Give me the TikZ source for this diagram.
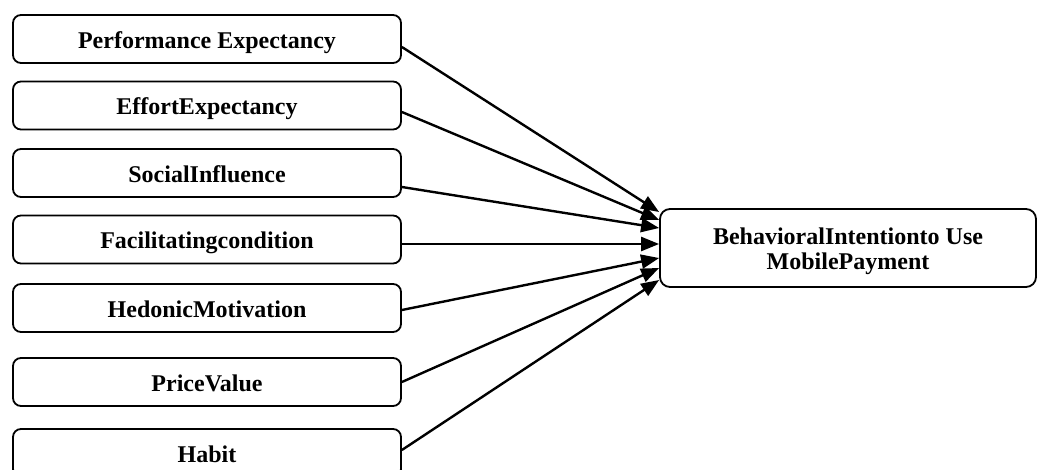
\documentclass[tikz,border=0pt]{standalone}
\usepackage{fontspec}
\setmainfont{Liberation Serif}
\usetikzlibrary{arrows.meta}
\begin{document}
\begin{tikzpicture}[x=0.5pt,y=-0.5pt,
  src/.style={draw,line width=0.9pt,rounded corners=4pt,minimum width=194pt,minimum height=24pt,
    inner sep=0pt,font=\bfseries\fontsize{12}{13}\selectfont,text height=11.5pt,text depth=2pt},
  tgt/.style={draw,line width=0.9pt,rounded corners=5pt,minimum width=188pt,minimum height=39pt,
    inner sep=0pt,align=center,font=\bfseries\fontsize{12}{13}\selectfont,text height=24pt,text depth=2pt},
  arr/.style={line width=1.2pt,-{Triangle[length=9pt,width=7pt]}}]
\clip (0,0) rectangle (1048,470);
\node[src] (b1) at (207,39) {Performance Expectancy};
\node[src] (b2) at (207,105.5) {EffortExpectancy};
\node[src] (b3) at (207,173) {SocialInfluence};
\node[src] (b4) at (207,239.5) {Facilitatingcondition};
\node[src] (b5) at (207,308) {HedonicMotivation};
\node[src] (b6) at (207,382) {PriceValue};
\node[src] (b7) at (207,453) {Habit};
\node[tgt] (t) at (848,248) {BehavioralIntentionto Use\\MobilePayment};
\draw[arr] ([yshift=-4pt]b1.east) -- ([yshift=18pt]t.west);
\draw[arr] ([yshift=-3.25pt]b2.east) -- ([yshift=14pt]t.west);
\draw[arr] ([yshift=-7pt]b3.east) -- ([yshift=10pt]t.west);
\draw[arr] ([yshift=-2.25pt]b4.east) -- ([yshift=2pt]t.west);
\draw[arr] ([yshift=-1pt]b5.east) -- ([yshift=-5pt]t.west);
\draw[arr] (b6.east) -- ([yshift=-10pt]t.west);
\draw[arr] ([yshift=1.5pt]b7.east) -- ([yshift=-16pt]t.west);
\end{tikzpicture}
\end{document}
